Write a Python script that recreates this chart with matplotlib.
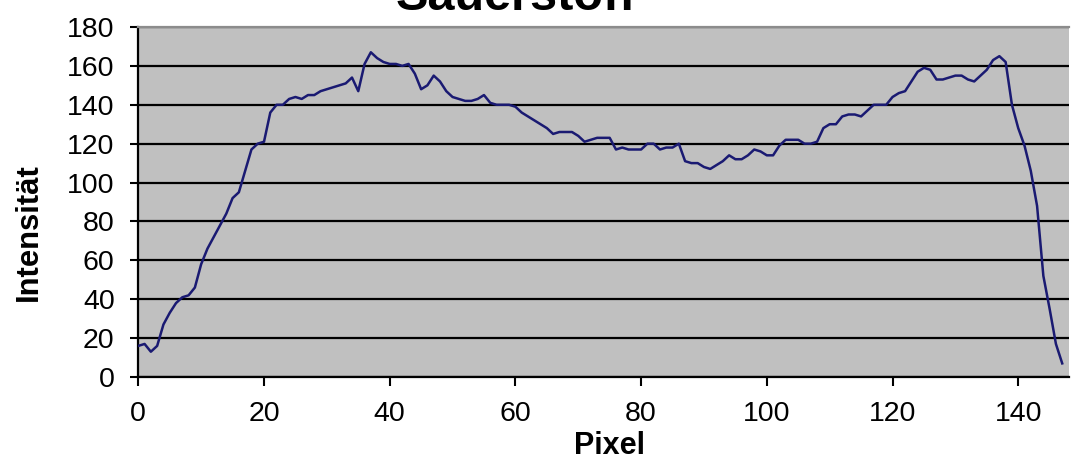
"""Intensitätsprofil Sauerstoff: Intensität entlang der Pixelzeile."""

import numpy as np
import matplotlib.pyplot as plt

# Intensitätswerte pro Pixel (0 .. 147)
intensitaet = [
    16, 17, 13, 16, 27, 33, 38, 41, 42, 46,
    58, 66, 72, 78, 84, 92, 95, 106, 117, 120,
    121, 136, 140, 140, 143, 144, 143, 145, 145, 147,
    148, 149, 150, 151, 154, 147, 161, 167, 164, 162,
    161, 161, 160, 161, 156, 148, 150, 155, 152, 147,
    144, 143, 142, 142, 143, 145, 141, 140, 140, 140,
    139, 136, 134, 132, 130, 128, 125, 126, 126, 126,
    124, 121, 122, 123, 123, 123, 117, 118, 117, 117,
    117, 120, 120, 117, 118, 118, 120, 111, 110, 110,
    108, 107, 109, 111, 114, 112, 112, 114, 117, 116,
    114, 114, 119, 122, 122, 122, 120, 120, 121, 128,
    130, 130, 134, 135, 135, 134, 137, 140, 140, 140,
    144, 146, 147, 152, 157, 159, 158, 153, 153, 154,
    155, 155, 153, 152, 155, 158, 163, 165, 162, 140,
    128, 119, 106, 88, 52, 35, 17, 7,
]
pixel = np.arange(len(intensitaet))

x_ticks = [0, 20, 40, 60, 80, 100, 120, 140]
y_ticks = [0, 20, 40, 60, 80, 100, 120, 140, 160, 180]

titel = "Sauerstoff"
x_titel = "Pixel"
y_titel = "Intensität"

W, H = 1071, 461
fig = plt.figure(figsize=(W / 100, H / 100), dpi=100)
fig.patch.set_facecolor("white")

ax = fig.add_axes([138.3 / W, 1 - 377 / H, (1068.5 - 138.3) / W, (377 - 27) / H])
ax.set_facecolor("#c0c0c0")

ax.plot(pixel, intensitaet, color="#1a1a72", lw=1.8, zorder=3)

ax.set_xlim(0, 148)
ax.set_ylim(0, 180)
ax.set_xticks(x_ticks)
ax.set_yticks(y_ticks)

tick_font = dict(family=["Liberation Sans Narrow", "Liberation Sans"], size=20.5)
ax.set_xticklabels([str(t) for t in x_ticks], **tick_font)
ax.set_yticklabels([str(t) for t in y_ticks], **tick_font)
ax.tick_params(axis="x", direction="out", length=6.5, width=1.5, pad=11, colors="black")
ax.tick_params(axis="y", direction="out", length=6, width=1.5, pad=11, colors="black")

ax.yaxis.grid(True, color="black", lw=1.6, zorder=1)
ax.set_axisbelow(True)

for side in ("left", "bottom"):
    ax.spines[side].set_linewidth(1.6)
    ax.spines[side].set_color("black")
ax.spines["right"].set_visible(False)
ax.spines["top"].set_color("#8c8c8c")
ax.spines["top"].set_linewidth(1.6)
ax.spines["top"].set_zorder(5)

label_font = dict(family=["Liberation Sans", "DejaVu Sans"], weight="bold")
fig.text(516 / W, 1 - 10.5 / H, titel, ha="center", va="baseline", fontsize=35, **label_font)
fig.text(609 / W, 7 / H, x_titel, ha="center", va="baseline", fontsize=22, **label_font)
fig.text(37 / W, 1 - 232 / H, y_titel, ha="center", va="baseline", rotation=90,
         rotation_mode="anchor", fontsize=22.3, **label_font)

fig.savefig("out.png", dpi=100, facecolor="white")
